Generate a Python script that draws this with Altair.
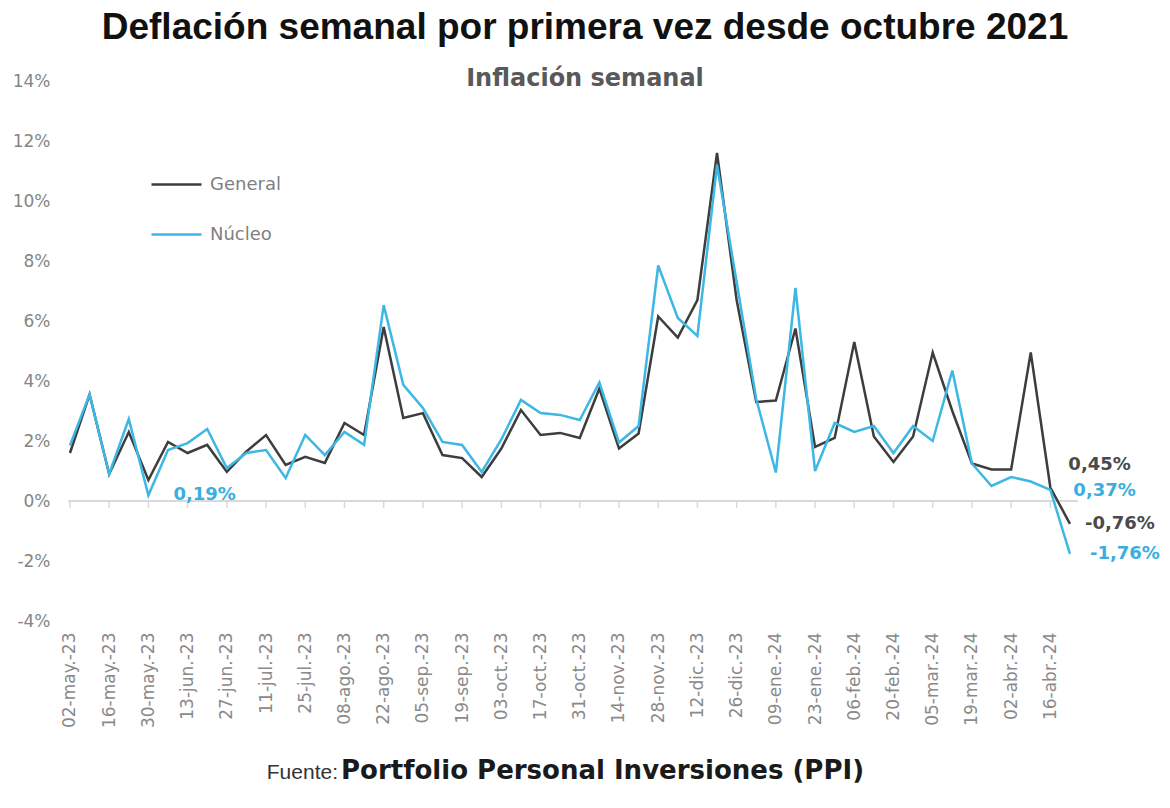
import altair as alt
import pandas as pd

tick_labels = ["02-may.-23", "16-may.-23", "30-may.-23", "13-jun.-23", "27-jun.-23",
               "11-jul.-23", "25-jul.-23", "08-ago.-23", "22-ago.-23", "05-sep.-23",
               "19-sep.-23", "03-oct.-23", "17-oct.-23", "31-oct.-23", "14-nov.-23",
               "28-nov.-23", "12-dic.-23", "26-dic.-23", "09-ene.-24", "23-ene.-24",
               "06-feb.-24", "20-feb.-24", "05-mar.-24", "19-mar.-24", "02-abr.-24",
               "16-abr.-24"]

general = [1.6, 3.55, 0.9, 2.3, 0.7, 1.97, 1.6, 1.87, 0.97, 1.65,
           2.2, 1.2, 1.47, 1.27, 2.6, 2.2, 5.8, 2.77, 2.93, 1.53,
           1.43, 0.8, 1.75, 3.03, 2.2, 2.27, 2.1, 3.75, 1.75, 2.25,
           6.15, 5.45, 6.7, 11.6, 6.7, 3.3, 3.35, 5.75, 1.8, 2.1,
           5.3, 2.15, 1.3, 2.15, 4.95, 3.0, 1.25, 1.05, 1.05, 4.95,
           0.45, -0.76]

nucleo = [1.85, 3.55, 0.9, 2.73, 0.19, 1.7, 1.93, 2.4, 1.1, 1.6,
          1.7, 0.77, 2.2, 1.53, 2.3, 1.87, 6.53, 3.87, 3.1, 1.97,
          1.87, 0.97, 2.05, 3.37, 2.93, 2.87, 2.7, 3.95, 1.95, 2.5,
          7.85, 6.1, 5.5, 11.2, 7.3, 3.4, 0.95, 7.1, 1.0, 2.6,
          2.3, 2.5, 1.6, 2.5, 2.0, 4.35, 1.25, 0.5, 0.8, 0.65,
          0.37, -1.76]

series_names = ["General", "Núcleo"]
series_colors = ["#3d3d3d", "#3db7e4"]
label_colors = ["#4a4a4a", "#3aaee0"]

rows = []
for name, vals in zip(series_names, [general, nucleo]):
    for i, v in enumerate(vals):
        rows.append({"idx": i, "serie": name, "valor": v})
df = pd.DataFrame(rows)

label_expr = "[" + ",".join(f"'{t}'" for t in tick_labels) + "][datum.value / 2]"

x_enc = alt.X("idx:Q",
              scale=alt.Scale(domain=[-0.1, 51.41], nice=False, zero=False),
              axis=alt.Axis(values=list(range(0, 52, 2)), labelExpr=label_expr,
                            title=None, grid=False, ticks=False, domain=False,
                            labelAngle=-90, labelPadding=11, labelFontSize=17,
                            labelFont="DejaVu Sans", labelColor="#8a8a8a"))
y_enc = alt.Y("valor:Q",
              scale=alt.Scale(domain=[-4, 14], nice=False),
              axis=alt.Axis(values=list(range(-4, 15, 2)), labelExpr="datum.value + '%'",
                            title=None, grid=False, ticks=False, domain=False,
                            labelPadding=18, labelFontSize=17,
                            labelFont="DejaVu Sans", labelColor="#858585"))

base = alt.Chart(df)

zero_line = alt.Chart(pd.DataFrame({"valor": [0]})).mark_rule(
    color="#d9d9d9", strokeWidth=2).encode(y=alt.Y("valor:Q"))

ticks_df = pd.DataFrame({"idx": list(range(0, 52, 2)), "valor": [0] * 26})
zero_ticks = alt.Chart(ticks_df).mark_rule(color="#d9d9d9", strokeWidth=1.5, y2Offset=7).encode(
    x="idx:Q", y="valor:Q", y2="valor:Q")

lines = base.mark_line(strokeWidth=2.5).encode(
    x=x_enc, y=y_enc,
    color=alt.Color("serie:N",
                    scale=alt.Scale(domain=series_names, range=series_colors),
                    legend=alt.Legend(title=None, orient="none", legendX=82, legendY=77,
                                      symbolType="stroke", symbolSize=2500,
                                      symbolStrokeWidth=2.5, labelFontSize=18,
                                      labelFont="DejaVu Sans", labelColor="#7f7f7f",
                                      labelOffset=7, rowPadding=14)),
    order="idx:Q")


def annot(serie_i, i, dx, dy):
    vals = [general, nucleo][serie_i]
    v = vals[i]
    txt = f"{v:.2f}".replace(".", ",") + "%"
    d = pd.DataFrame({"idx": [i], "valor": [v], "t": [txt]})
    return alt.Chart(d).mark_text(align="left", baseline="middle", dx=dx, dy=dy,
                                  font="DejaVu Sans", fontWeight="bold", fontSize=18,
                                  color=label_colors[serie_i]).encode(
        x="idx:Q", y="valor:Q", text="t:N")


annots = [
    annot(1, 4, 25, 0),
    annot(0, 50, 18, -23),
    annot(1, 50, 23, 1),
    annot(0, 51, 15, 0),
    annot(1, 51, 20, 0),
]

src_df = pd.DataFrame({"a": ["Fuente:"], "b": ["Portfolio Personal Inversiones (PPI)"]})
src1 = alt.Chart(src_df).mark_text(align="right", baseline="alphabetic", fontSize=21,
                                   font="Liberation Sans", color="#333333").encode(
    text="a:N", x=alt.value(270), y=alt.value(698))
src2 = alt.Chart(src_df).mark_text(align="left", baseline="alphabetic", fontSize=26,
                                   font="DejaVu Sans", fontWeight="bold", color="#1a1a1a").encode(
    text="b:N", x=alt.value(273), y=alt.value(698))

chart = alt.layer(zero_line, zero_ticks, lines, *annots, src1, src2).properties(
    width=1010, height=540,
    background="white",
    padding={"left": 68, "top": 81, "right": 92, "bottom": 187},
    autosize=alt.AutoSizeParams(type="none"),
    title=alt.TitleParams(text="Deflación semanal por primera vez desde octubre 2021",
                          subtitle="Inflación semanal", anchor="middle",
                          font="Liberation Sans", fontSize=37, fontWeight="bold", color="#111111",
                          subtitleFont="DejaVu Sans", subtitleFontSize=24,
                          subtitleFontWeight="bold", subtitleColor="#595959",
                          subtitlePadding=20, offset=-20, dx=12)
).configure_view(strokeWidth=0)

chart.save("out.html", embed_options={"renderer": "svg", "actions": False})
